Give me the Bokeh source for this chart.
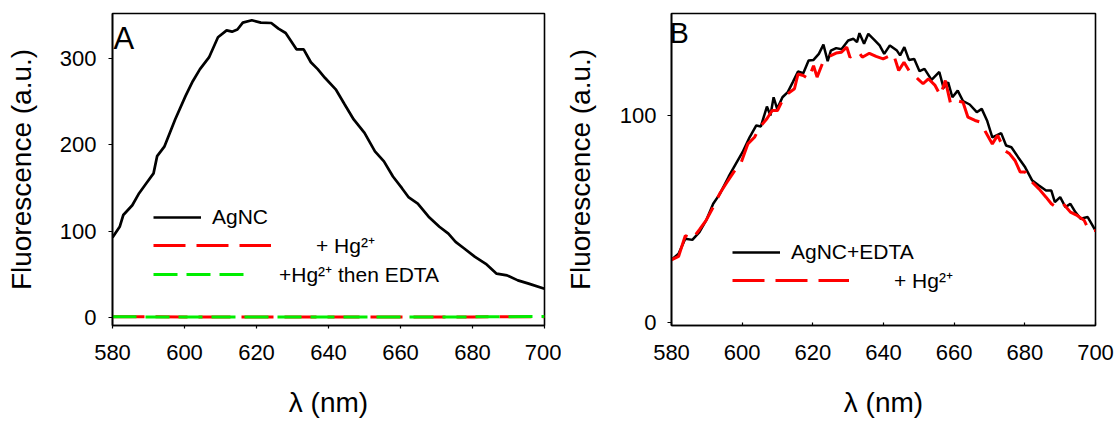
from bokeh.plotting import figure
from bokeh.models import Range1d, FixedTicker, Legend, LegendItem, Label
from bokeh.layouts import row
from bokeh.embed import file_html
from bokeh.resources import INLINE

FONT = "Liberation Sans"

# ---------------- Panel A data ----------------
wl_a = [580, 582, 583, 585.5, 587.4, 589.4, 591.4, 592.4, 594.4, 597.4, 600.3,
        602.3, 604.3, 606.8, 609.3, 611.7, 613.2, 614.7, 616.2, 618.7, 621.2,
        624.1, 626.1, 628.1, 631.1, 633.1, 635.1, 637, 639, 642, 644.5, 647,
        650, 652.9, 655.4, 657.9, 660.4, 662.3, 664.8, 667.8, 670.8, 673.3,
        675.3, 677.7, 680.7, 683.7, 686.7, 689.6, 692.6, 695.6, 700]
agnc_a = [92.6, 105, 118.7, 130, 144, 155.6, 167, 187, 198, 229.6, 257,
          274, 288, 301.6, 325, 333, 331.5, 334, 342, 344.7, 342,
          341.6, 335, 330, 311, 311, 296, 288, 278, 264.6, 247, 229.6,
          214, 192.6, 181, 163.4, 149.8, 139, 132, 116.7, 105, 97,
          87.5, 79.8, 70, 62, 50.6, 48.6, 42.8, 39, 33]
wl_flat = [580, 590, 600, 610, 620, 630, 640, 650, 660, 670, 680, 690, 700]
hg_a = [0.6, 0.5, 0.4, 0.4, 0.3, 0.3, 0.3, 0.2, 0.2, 0.3, 0.4, 0.5, 0.6]
hg_edta_a = [0.5, 0.4, 0.4, 0.3, 0.3, 0.2, 0.2, 0.2, 0.3, 0.3, 0.4, 0.6, 0.8]

# ---------------- Panel B data ----------------
wl_b1 = [580, 582, 583.9, 585.9, 587.9, 589.8, 591.8, 593.7, 596.2, 598.2, 600.1,
         602.1, 604.0, 605.3, 607, 608, 608.9, 609.9, 611.4, 612.9, 614.3, 615.8,
         617.3, 618.8, 620.2, 621.7, 623, 624.2, 625.1, 626.6, 628.1, 630, 631.5,
         632.5, 633.2, 634.5, 635.7, 637.4, 638.9, 640.2, 641.8, 643.8, 644.7,
         645.9, 647.2, 648.7, 650.2, 651.6, 653.6, 655.8, 657, 658.3, 659.5, 661,
         662.5, 664.4, 666.4, 667.8, 669.3, 670.8, 673.3, 674.7, 676.2, 678.1,
         680.1, 682.1, 684, 686, 687.5, 688.5, 690, 691.5, 692.9, 694.3, 695.8,
         697.8, 700]
edta_b = [30.4, 33.3, 40.5, 40, 43.7, 49.4, 57.4, 62.2, 70.6, 76.7, 82.3,
          89.5, 95.2, 94.7, 104.3, 100, 108.8, 103.2, 108.8, 111.3, 116, 121.2,
          120.4, 126.5, 126.8, 129.7, 134.2, 126.2, 131.3, 132.5, 132, 136.2, 137,
          135.4, 139.7, 134.6, 139.4, 136.5, 133.8, 129.7, 133.8, 131.3, 129,
          133, 126.8, 127.3, 121.4, 122.5, 117.2, 121, 113.3, 116, 108.8, 112,
          107, 105.3, 101.6, 103.2, 97.6, 89.5, 91.5, 85.5, 84.7, 79.9,
          75, 68.6, 66.2, 63.8, 63.8, 58.2, 60.6, 55.8, 57.4, 53.4, 50.2,
          51, 44.5]
wl_b2 = [580, 582, 583.9, 585.9, 587.9, 589.8, 591.8, 593.7, 595.7, 597.6, 599.6,
         601.6, 603.5, 605, 607, 608.5, 610, 611.4, 612.9, 614.8, 615.8, 617.3,
         618.8, 620.2, 621.2, 622.7, 624.6, 626.6, 628.1, 629.6, 630.5, 633, 634,
         636, 637.9, 639.9, 642.8, 644.3, 645.8, 647.2, 649.7, 651.2, 652.7,
         654.6, 656.1, 657.5, 659.0, 660.5, 662.5, 663.9, 665.9, 667.4, 668.9,
         670.8, 672.3, 674.3, 675.7, 677.2, 678.7, 680.1, 682.1, 684, 686, 687.5,
         688.9, 690.9, 692.9, 694.8, 696.8, 698.2, 700]
hg_b = [30.4, 32, 42, 40.5, 44.9, 49.4, 55.8, 62.5, 67.8, 72.7, 76.7,
        86.3, 89.5, 94.4, 98.4, 102.4, 102.4, 107.2, 110.5, 112.9, 120, 119.3,
        117.7, 124, 118.5, 125, 128.5, 130.1, 130.5, 133, 128.1, 130.5, 128.1,
        130, 128.5, 127.3, 129.7, 121.7, 125.7, 121.7, 117.7, 115.3, 117.7,
        114.5, 109.6, 116.9, 105.6, 107.2, 106.4, 99.2, 97.6, 96.8, 92,
        86.3, 90.4, 83.1, 81.5, 78.3, 72.7, 72.7, 67.8, 64.6, 60.6, 57.4,
        55.8, 57.4, 53.4, 51.8, 49.4, 44.5, 44.5]

x_ticks = [580, 600, 620, 640, 660, 680, 700]
y_ticks_a = [0, 100, 200, 300]
y_ticks_b = [0, 100]

x_label = "\u03bb (nm)"
y_label = "Fluorescence (a.u.)"


def style(p, xtick_out, xtick_in, xstand, ystand, xlab_st, ylab_st):
    p.grid.visible = False
    p.outline_line_color = "black"
    p.outline_line_width = 1.6
    p.background_fill_color = "white"
    p.border_fill_color = "white"
    for ax in (p.xaxis[0], p.yaxis[0]):
        ax.axis_line_color = "black"
        ax.axis_line_width = 1.6
        ax.major_tick_line_color = "black"
        ax.major_tick_line_width = 1.2
        ax.minor_tick_line_color = None
        ax.major_label_text_font = FONT
        ax.major_label_text_font_size = "22px"
        ax.major_label_text_color = "black"
        ax.axis_label_text_font = FONT
        ax.axis_label_text_font_size = "28px"
        ax.axis_label_text_font_style = "normal"
        ax.axis_label_text_color = "black"
    p.xaxis.axis_label = x_label
    p.yaxis.axis_label = y_label
    p.xaxis.ticker = FixedTicker(ticks=x_ticks)
    p.xaxis.major_tick_out = xtick_out
    p.xaxis.major_tick_in = xtick_in
    p.xaxis.major_label_standoff = xstand
    p.xaxis.axis_label_standoff = xlab_st
    p.yaxis.major_tick_out = 4
    p.yaxis.major_tick_in = 0
    p.yaxis.major_label_standoff = ystand
    p.yaxis.axis_label_standoff = ylab_st


def add_legend(p, renderer, text, x, y, gw, standoff):
    leg = Legend(items=[LegendItem(label=text, renderers=[renderer])],
                 location=(x, y), orientation="vertical",
                 glyph_width=gw, glyph_height=30, label_height=30,
                 label_standoff=standoff, padding=0, margin=0, spacing=0,
                 border_line_color=None, background_fill_alpha=0,
                 label_text_font=FONT, label_text_font_size="21px",
                 label_text_color="black")
    p.add_layout(leg)


# ---------------- Figure A ----------------
pa = figure(width=561, height=421, x_range=Range1d(580, 700),
            y_range=Range1d(-9.6, 352.6), output_backend="svg",
            toolbar_location=None, min_border_left=112, min_border_right=17,
            min_border_top=13, min_border_bottom=96)
style(pa, 3, 0, 16, 12, 24, 20)
pa.yaxis.ticker = FixedTicker(ticks=y_ticks_a)

ra1 = pa.line(wl_a, agnc_a, line_color="black", line_width=2.7)
ra2 = pa.line(wl_flat, hg_a, line_color="#ff0000", line_width=3,
              line_dash="32 11")
ra3 = pa.line(wl_flat, hg_edta_a, line_color="#00ee00", line_width=3,
              line_dash="24 9")
add_legend(pa, ra1, "AgNC", 41, 93, 48, 11)
add_legend(pa, ra2, "+ Hg\u00b2\u207a", 41, 65, 118, 45)
add_legend(pa, ra3, "+Hg\u00b2\u207a then EDTA", 41, 36, 92, 34)
pa.add_layout(Label(x=1, y=287, x_units="screen", y_units="screen", text="A",
                    text_font=FONT, text_font_size="31px",
                    text_baseline="alphabetic", text_color="black"))

# ---------------- Figure B ----------------
pb = figure(width=553, height=421, x_range=Range1d(580, 700),
            y_range=Range1d(-1.3, 149.2), output_backend="svg",
            toolbar_location=None, min_border_left=105, min_border_right=19,
            min_border_top=13, min_border_bottom=96)
style(pb, 0, 3, 19, 11, 24, 21)
pb.yaxis.ticker = FixedTicker(ticks=y_ticks_b)

rb1 = pb.line(wl_b1, edta_b, line_color="black", line_width=2.5)
rb2 = pb.line(wl_b2, hg_b, line_color="#ff0000", line_width=3,
              line_dash="32 11")
add_legend(pb, rb1, "AgNC+EDTA", 61, 58, 48, 11)
add_legend(pb, rb2, "+ Hg\u00b2\u207a", 61, 30, 117, 45)
pb.add_layout(Label(x=-2, y=293, x_units="screen", y_units="screen", text="B",
                    text_font=FONT, text_font_size="29px",
                    text_baseline="alphabetic", text_color="black"))

layout = row(pa, pb)
open("out.html", "w").write(file_html(layout, INLINE))
